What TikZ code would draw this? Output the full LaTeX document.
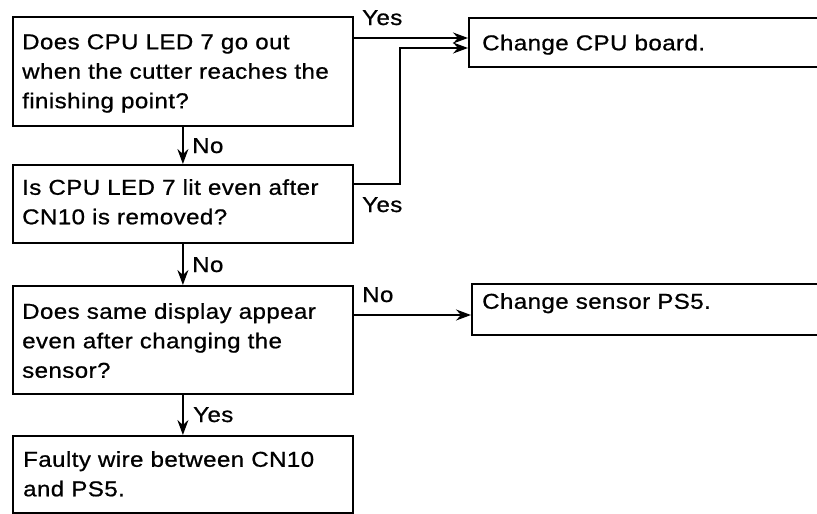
\documentclass[tikz,border=0pt]{standalone}
\usepackage{fontspec}
\setmainfont{Liberation Sans}[FakeStretch=1.12,LetterSpace=2,FakeBold=0.8]
\usetikzlibrary{arrows.meta,calc}
\tikzset{
  box/.style={draw, line width=1.8pt, rectangle, inner sep=0pt, anchor=north west},
  txt/.style={inner sep=0pt, anchor=north west, align=left, font=\fontsize{21.5}{29.5}\selectfont},
  lbl/.style={inner sep=0pt, anchor=base west, font=\fontsize{21.5}{24}\selectfont},
  arr/.style={line width=1.8pt, -{Stealth[length=15pt,width=11pt,inset=5pt]}},
}
\begin{document}
\begin{tikzpicture}[x=1pt,y=-1pt]
\useasboundingbox (0,0) rectangle (817,514);
% boxes
\node[box, minimum width=340pt, minimum height=109pt] (q1) at (12,16) {};
\node[box, minimum width=340pt, minimum height=78pt] (q2) at (12,164) {};
\node[box, minimum width=340pt, minimum height=108pt] (q3) at (12,285) {};
\node[box, minimum width=340pt, minimum height=77pt] (q4) at (12,435) {};
\node[box, minimum width=400pt, minimum height=49pt] (cpu) at (468,17) {};
\node[box, minimum width=400pt, minimum height=51pt] (ps5) at (471,283) {};
% texts
\node[txt] (t1) at (22,34) {Does CPU LED 7 go out\\when the cutter reaches the\\finishing point?};
\node[txt] (t2) at (22,179) {Is CPU LED 7 lit even after\\CN10 is removed?};
\node[txt] (t3) at (22,303) {Does same display appear\\even after changing the\\sensor?};
\node[txt] (t4) at (23,451) {Faulty wire between CN10\\and PS5.};
\node[txt] (t5) at (482,34.5) {Change CPU board.};
\node[txt] (t6) at (482,293) {Change sensor PS5.};
% connectors
\coordinate (s1) at ($(q1.north east)+(0,22)$);
\draw[arr] (s1) -- (s1 -| cpu.west);
\coordinate (s2) at ($(q2.north east)+(0,20)$);
\coordinate (bend) at (400,48);
\draw[arr] (s2) -| (bend) -- (bend -| cpu.west);
\coordinate (s3) at ($(q3.north east)+(0,30)$);
\draw[arr] (s3) -- (s3 -| ps5.west);
\draw[arr] (q1.south) -- (q2.north);
\draw[arr] (q2.south) -- (q3.north);
\draw[arr] (q3.south) -- (q4.north);
% labels
\node[lbl] (y1) at (362,25) {Yes};
\node[lbl] (y2) at (362,212) {Yes};
\node[lbl] (n1) at (192,153) {No};
\node[lbl] (n2) at (192,272) {No};
\node[lbl] (y3) at (193,422) {Yes};
\node[lbl] (n3) at (362,302) {No};
\end{tikzpicture}
\end{document}
